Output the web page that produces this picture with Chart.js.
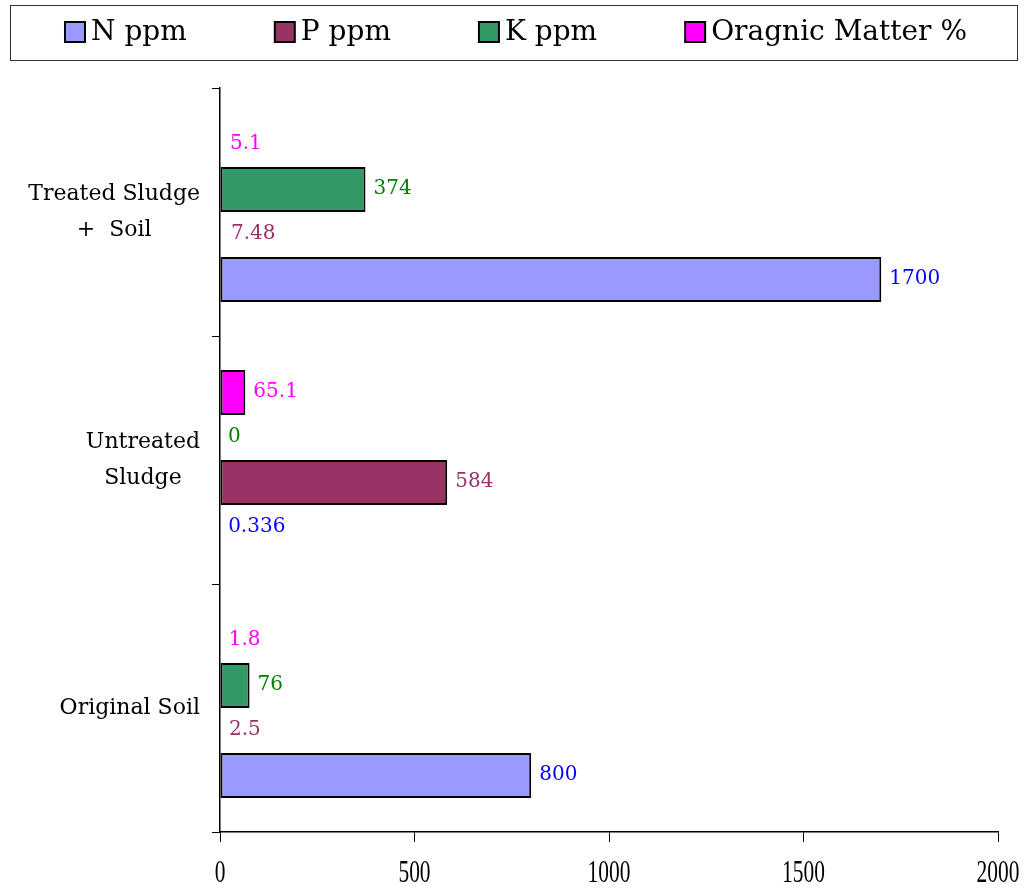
<!DOCTYPE html>
<html>
<head>
<meta charset="utf-8">
<script src="https://cdn.jsdelivr.net/npm/chart.js@4.4.0/dist/chart.umd.min.js"></script>
<style>
  html, body { margin: 0; padding: 0; background: #fff; }
</style>
</head>
<body>
<canvas id="soil-chart" width="1035" height="890"></canvas>
<script>
// chart data
const categories = [['Treated Sludge', '+  Soil'], ['Untreated', 'Sludge'], ['Original Soil']];
const nPpm = [1700, 0.336, 800];
const pPpm = [7.48, 584, 2.5];
const kPpm = [374, 0, 76];
const organicMatter = [5.1, 65.1, 1.8];
const seriesNames = ['N ppm', 'P ppm', 'K ppm', 'Oragnic Matter %'];
const xTicks = [0, 500, 1000, 1500, 2000];

// colours
const barColors = { n: '#9999FF', p: '#993366', k: '#339966', om: '#FF00FF' };
const labelColors = { n: '#0000FF', p: '#993366', k: '#008000', om: '#FF00FF' };

const SERIF = '"DejaVu Serif", serif';

// bars only a couple of px wide vanish behind the axis in the original
const isHairline = c => {
    const xs = c.chart.scales.x;
    if (!xs) return false;
    return xs.getPixelForValue(c.raw) - xs.getPixelForValue(0) < 4;
};

// datasets go top -> bottom inside each category, legend goes N, P, K, OM
const datasets = [
    { key: 'om', label: seriesNames[3], data: organicMatter },
    { key: 'k',  label: seriesNames[2], data: kPpm },
    { key: 'p',  label: seriesNames[1], data: pPpm },
    { key: 'n',  label: seriesNames[0], data: nPpm }
].map(d => ({
    label: d.label,
    data: d.data,
    key: d.key,
    backgroundColor: c => isHairline(c) ? 'transparent' : barColors[d.key],
    borderColor: '#000',
    borderWidth: c => isHairline(c) ? 0 : 2,
    borderSkipped: false,
    barPercentage: 1.0,
    categoryPercentage: 0.726
}));

// --- dibujo de leyenda, etiquetas y ejes a mano ---
const soilDecor = {
    id: 'soilDecor',
    afterDraw(chart) {
        const ctx = chart.ctx;
        const area = chart.chartArea;
        const xScale = chart.scales.x;
        const yScale = chart.scales.y;

        ctx.save();

        // legend frame + items
        ctx.strokeStyle = '#333';
        ctx.lineWidth = 1;
        ctx.strokeRect(10.5, 5.5, 1007, 55);

        ctx.font = '28px ' + SERIF;
        ctx.textBaseline = 'middle';
        ctx.textAlign = 'left';
        const order = ['n', 'p', 'k', 'om'];
        const items = order.map((key, i) => ({ key, text: seriesNames[i], w: ctx.measureText(seriesNames[i]).width }));
        const gap = 88, box = 20, boxGap = 6;
        const total = items.reduce((s, it) => s + box + boxGap + it.w, 0) + gap * (items.length - 1);
        let lx = 516 - total / 2;
        const ly = 32;
        items.forEach(it => {
            ctx.fillStyle = barColors[it.key];
            ctx.fillRect(lx, ly - box / 2, box, box);
            ctx.strokeStyle = '#000';
            ctx.lineWidth = 2;
            ctx.strokeRect(lx, ly - box / 2, box, box);
            ctx.fillStyle = '#000';
            ctx.fillText(it.text, lx + box + boxGap, ly + 1);
            lx += box + boxGap + it.w + gap;
        });

        // category labels: block right-aligned, lines centred
        ctx.font = '22px ' + SERIF;
        ctx.textAlign = 'center';
        ctx.fillStyle = '#000';
        categories.forEach((lines, i) => {
            const cy = yScale.getPixelForValue(i);
            const maxW = Math.max(...lines.map(l => ctx.measureText(l).width));
            const cx = area.left - 20 - maxW / 2;
            lines.forEach((l, j) => {
                ctx.fillText(l, cx, cy + (j - (lines.length - 1) / 2) * 36);
            });
        });

        // x tick labels, narrow serif
        ctx.font = '32px "Liberation Serif", serif';
        xScale.ticks.forEach(t => {
            const x = xScale.getPixelForValue(t.value);
            ctx.save();
            ctx.translate(x, 874);
            ctx.scale(0.67, 1);
            ctx.fillText(String(t.value), 0, 0);
            ctx.restore();
        });

        // value labels at bar ends
        ctx.font = '20px ' + SERIF;
        ctx.textAlign = 'left';
        chart.data.datasets.forEach((ds, di) => {
            const meta = chart.getDatasetMeta(di);
            ctx.fillStyle = labelColors[ds.key];
            meta.data.forEach((bar, i) => {
                const x = Math.max(bar.x, area.left) + 8;
                ctx.fillText(String(ds.data[i]), x, bar.y - 1);
            });
        });

        ctx.restore();
    }
};

new Chart(document.getElementById('soil-chart'), {
    type: 'bar',
    data: { labels: categories, datasets: datasets },
    options: {
        indexAxis: 'y',
        responsive: false,
        animation: false,
        devicePixelRatio: 1,
        layout: { padding: { top: 88, left: 10, right: 37, bottom: 0 } },
        plugins: {
            legend: { display: false },
            tooltip: { enabled: false }
        },
        scales: {
            x: {
                type: 'linear',
                min: xTicks[0],
                max: xTicks[xTicks.length - 1],
                afterBuildTicks: s => { s.ticks = xTicks.map(v => ({ value: v })); },
                ticks: { color: 'transparent', font: { size: 20 } },
                grid: { drawOnChartArea: false, drawTicks: true, tickLength: 10, color: '#000', lineWidth: 1 },
                border: { color: '#000', width: 1.5 },
                afterFit: s => { s.height = 58; }
            },
            y: {
                type: 'category',
                offset: true,
                ticks: { color: 'transparent', font: { size: 20 } },
                grid: { offset: true, drawOnChartArea: false, drawTicks: true, tickLength: 8, color: '#000', lineWidth: 1 },
                border: { color: '#000', width: 1.5 },
                afterFit: s => { s.width = 210; }
            }
        }
    },
    plugins: [soilDecor]
});
</script>
</body>
</html>
